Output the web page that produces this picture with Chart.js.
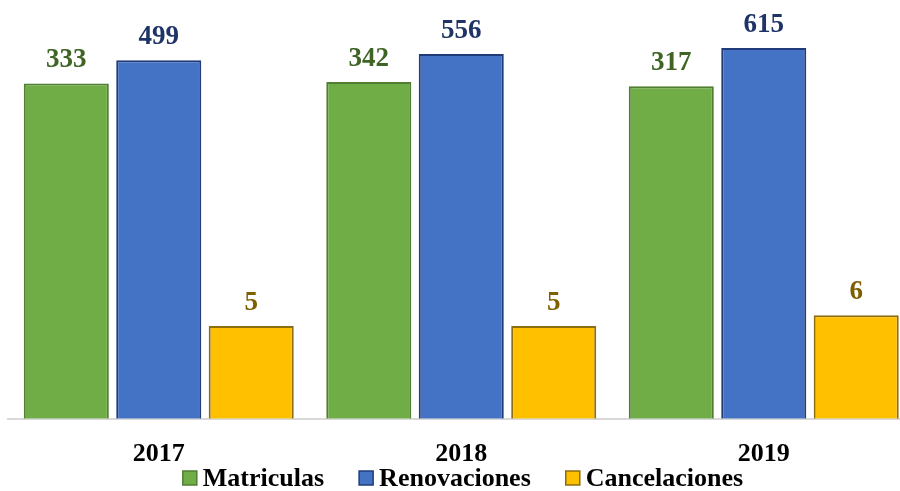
<!DOCTYPE html>
<html>
<head>
<meta charset="utf-8">
<script src="https://cdn.jsdelivr.net/npm/chart.js@4"></script>
<style>
  html, body { margin: 0; padding: 0; background: #fff; overflow: hidden; }
  #wrap { width: 926px; height: 491px; position: relative; }
</style>
</head>
<body>
<div id="wrap"><canvas id="grafica"></canvas></div>
<script>
// =========================
// DATOS
// =========================
const anios = ["2017", "2018", "2019"];
const matriculas = [333, 342, 317];
const renovaciones = [499, 556, 615];
const cancelaciones = [5, 5, 6];

const FUENTE = "'Liberation Serif', 'Times New Roman', serif";

// etiquetas encima de cada barra
const etiquetas = {
  id: "etiquetas",
  afterDatasetsDraw(chart) {
    const ctx = chart.ctx;
    ctx.save();
    ctx.font = "bold 27px " + FUENTE;
    ctx.textAlign = "center";
    ctx.textBaseline = "alphabetic";
    chart.data.datasets.forEach((ds, i) => {
      const meta = chart.getDatasetMeta(i);
      ctx.fillStyle = ds.labelColor;
      meta.data.forEach((bar, j) => {
        ctx.fillText(ds.data[j], bar.x, bar.y - 16);
      });
    });
    ctx.restore();
  }
};

// leyenda abajo (más compacta que la de Chart.js)
const leyenda = {
  id: "leyenda",
  afterDraw(chart) {
    const ctx = chart.ctx;
    const caja = 14, sep = 6, hueco = 35, y = 478;
    ctx.save();
    ctx.font = "bold 26px " + FUENTE;
    ctx.textBaseline = "middle";
    const items = chart.data.datasets.map((ds) => ({
      ds,
      ancho: caja + sep + ctx.measureText(ds.label).width
    }));
    const total = items.reduce((s, it) => s + it.ancho, 0) + hueco * (items.length - 1);
    let x = chart.width / 2 - total / 2;
    items.forEach((it) => {
      ctx.fillStyle = it.ds.backgroundColor;
      ctx.strokeStyle = it.ds.borderColor;
      ctx.lineWidth = 1.5;
      ctx.fillRect(x, y - caja / 2, caja, caja);
      ctx.strokeRect(x, y - caja / 2, caja, caja);
      ctx.fillStyle = "#000";
      ctx.fillText(it.ds.label, x + caja + sep, y + 1);
      x += it.ancho + hueco;
    });
    ctx.restore();
  }
};

new Chart(document.getElementById("grafica"), {
  type: "bar",
  data: {
    labels: anios,
    datasets: [
      {
        label: "Matriculas",
        data: matriculas,
        backgroundColor: "#70AD47",
        borderColor: "#507E32",
        labelColor: "#3F6424",
        borderWidth: 2
      },
      {
        label: "Renovaciones",
        data: renovaciones,
        backgroundColor: "#4472C4",
        borderColor: "#1F3C78",
        labelColor: "#1F3466",
        borderWidth: 2
      },
      {
        label: "Cancelaciones",
        data: cancelaciones,
        backgroundColor: "#FFC000",
        borderColor: "#8C6D12",
        labelColor: "#7F6000",
        borderWidth: 2
      }
    ]
  },
  options: {
    responsive: true,
    maintainAspectRatio: false,
    animation: false,
    layout: { padding: { left: 7.5, right: 11, top: 20, bottom: 9 } },
    datasets: {
      bar: { categoryPercentage: 0.917, barPercentage: 0.92 }
    },
    scales: {
      x: {
        grid: { display: false },
        border: { color: "#D9D9D9", width: 2 },
        ticks: {
          color: "#000",
          padding: 12,
          font: { family: FUENTE, size: 26, weight: "bold" }
        }
      },
      y: {
        type: "logarithmic",
        min: 1,
        max: 1000,
        display: false
      }
    },
    plugins: {
      legend: { display: false },
      tooltip: { enabled: false }
    }
  },
  plugins: [etiquetas, leyenda]
});
</script>
</body>
</html>
